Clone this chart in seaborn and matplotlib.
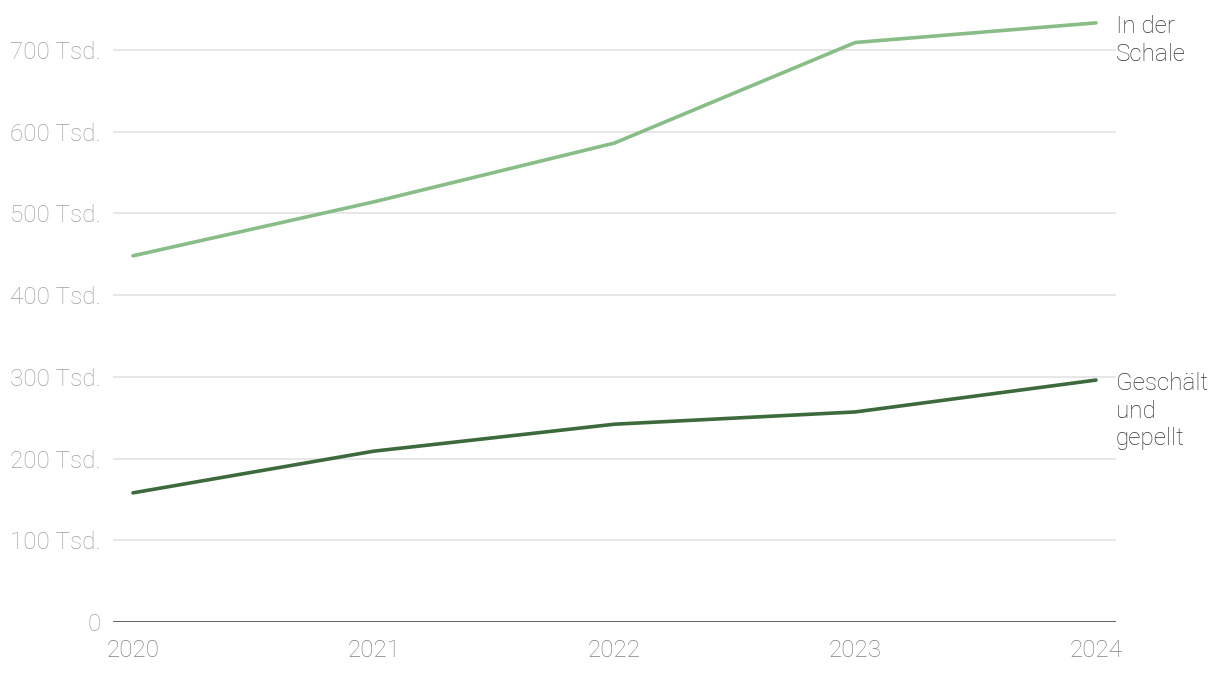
import matplotlib
matplotlib.use("Agg")
import matplotlib.pyplot as plt
import seaborn as sns
import pandas as pd

years = [2020, 2021, 2022, 2023, 2024]
in_der_schale = [448, 514, 586, 709, 733]
geschaelt = [158, 209, 242, 257, 296]
series_names = ["In der\nSchale", "Geschält\nund\ngepellt"]
y_ticks = [0, 100, 200, 300, 400, 500, 600, 700]
y_labels = ["0"] + [f"{v} Tsd." for v in y_ticks[1:]]
colors = ["#88bd88", "#3d6a3d"]

df = pd.DataFrame({
    "Jahr": years * 2,
    "Wert": in_der_schale + geschaelt,
    "Serie": [series_names[0]] * 5 + [series_names[1]] * 5,
})

sns.set_theme(style="white")
plt.rcParams["font.family"] = ["Roboto", "DejaVu Sans"]

fig = plt.figure(figsize=(12.2, 6.74), dpi=100)
ax = fig.add_axes([113 / 1220, 52 / 674, (1116 - 113) / 1220, 622 / 674])

sns.lineplot(data=df, x="Jahr", y="Wert", hue="Serie", palette=colors,
             linewidth=2.6, ax=ax, legend=False)

ax.set_xlim(2020 - 20 / 240.75, 2024 + 20 / 240.75)
ax.set_ylim(0, 761)
ax.set_yticks(y_ticks)
ax.set_yticklabels(y_labels)
ax.set_xticks(years)
ax.set_xticklabels([str(y) for y in years])
ax.set_xlabel("")
ax.set_ylabel("")

for v in y_ticks[1:]:
    ax.axhline(v, color="#e3e3e3", linewidth=1.2, zorder=0)
ax.axhline(0, color="#333333", linewidth=1.8, zorder=3)

for s in ax.spines.values():
    s.set_visible(False)

ax.tick_params(axis="y", length=0, pad=9, labelsize=17.5, labelcolor="#a0a0a0")
ax.tick_params(axis="x", length=0, pad=12, labelsize=17.5, labelcolor="#808080")
for lab in ax.get_yticklabels() + ax.get_xticklabels():
    lab.set_fontweight("light")

ends = [in_der_schale[-1], geschaelt[-1]]
for name, v in zip(series_names, ends):
    ax.annotate(name, xy=(1, v), xycoords=("axes fraction", "data"),
                xytext=(0, 8), textcoords="offset pixels",
                ha="left", va="top", fontsize=17.5, color="#333333",
                fontweight="light", linespacing=1.26, annotation_clip=False)

fig.savefig("out.png", dpi=100)
